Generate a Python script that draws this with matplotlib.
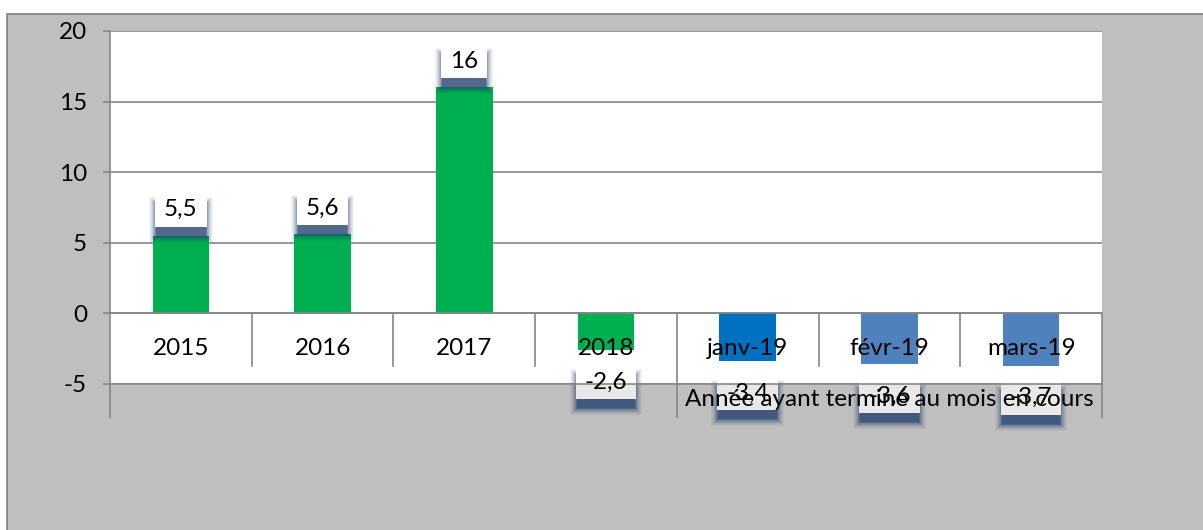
import matplotlib
matplotlib.use('Agg')
import matplotlib.pyplot as plt
from matplotlib.patches import Rectangle
from matplotlib.transforms import IdentityTransform

categories = ['2015', '2016', '2017', '2018', 'janv-19', 'févr-19', 'mars-19']
values = [5.5, 5.6, 16, -2.6, -3.4, -3.6, -3.7]
value_labels = ['5,5', '5,6', '16', '-2,6', '-3,4', '-3,6', '-3,7']
bar_colors = ['#00B050', '#00B050', '#00B050', '#00B050', '#0070C0', '#4F81BD', '#4F81BD']
group_label = 'Année ayant terminé au mois en cours'
yticks = [-5, 0, 5, 10, 15, 20]

plt.rcParams['font.family'] = ['Lato', 'DejaVu Sans']
FS = 17.5
GRID = '#868686'
LW = 1.2

W, H = 1203, 530
fig = plt.figure(figsize=(W / 100, H / 100), dpi=100)
fig.patch.set_facecolor('white')
bg = Rectangle((7 / W, -0.01), 1.0, 1 - 14 / H + 0.01, transform=fig.transFigure,
               fc='#BFBFBF', ec='#808080', lw=1.2, zorder=-5)
fig.add_artist(bg)

ax = fig.add_axes([110 / W, 1 - 384 / H, (1102 - 110) / W, (384 - 31) / H])
ax.set_zorder(5)
ax.set_facecolor('white')
ax.set_xlim(-0.5, len(categories) - 0.5)
ax.set_ylim(-5, 20)

x = list(range(len(categories)))
ax.bar(x, values, width=0.4, color=bar_colors, zorder=2)

ax.set_yticks(yticks)
ax.set_yticklabels([str(t) for t in yticks])
ax.yaxis.grid(True, color=GRID, lw=LW, zorder=1)
ax.set_axisbelow(True)
ax.set_xticks([])
for s in ['top', 'right', 'bottom']:
    ax.spines[s].set_visible(False)
ax.spines['left'].set_color(GRID)
ax.spines['left'].set_linewidth(LW)
ax.tick_params(axis='y', length=5, width=LW, color=GRID, pad=11.5, labelsize=FS)

# axis line at zero and -5 line over the labels
ax.axhline(0, color=GRID, lw=LW, zorder=3)
ax.axhline(-5, color=GRID, lw=LW, zorder=5, clip_on=False)

# category dividers
y_short = -3.7
y_long = -7.33
for i in range(len(categories) - 1):
    xd = i + 0.5
    yb = y_long if categories[i + 1] == 'janv-19' else y_short
    ax.plot([xd, xd], [0, yb], color=GRID, lw=LW, clip_on=False, zorder=3)
ax.plot([len(categories) - 0.5] * 2, [0, y_long], color=GRID, lw=LW, clip_on=False, zorder=3)
ax.plot([-0.5, -0.5], [-5, y_long], color=GRID, lw=LW, clip_on=False, zorder=3)

# category labels
for i, c in enumerate(categories):
    ax.text(i, -2.5, c, ha='center', va='center', fontsize=FS, color='black', zorder=6)

# group label
ax.text(5, -6.1, group_label, ha='center', va='center', fontsize=FS, color='black', zorder=7, clip_on=False)

# data labels with white box and blurred navy shadow
fig.canvas.draw()
renderer = fig.canvas.get_renderer()
ident = IdentityTransform()
y_m5 = ax.transData.transform((0, -5))[1]
BOX_H = 34
SHADOW = '#1F3A6E'
blur = [(6, 0.05), (5, 0.06), (4, 0.08), (3, 0.1), (2, 0.13), (1, 0.18), (0, 0.3), (-1, 0.35)]
for i, (v, l) in enumerate(zip(values, value_labels)):
    off = 26 if v > 0 else -32
    cx, cy = ax.transData.transform((i, v))
    cy += off
    t = ax.text(cx, cy, l, transform=ident, ha='center', va='center', fontsize=FS,
                color='black', zorder=6, clip_on=False)
    tw = t.get_window_extent(renderer).width
    bw = tw + 18
    x0, y0 = cx - bw / 2, cy - BOX_H / 2
    # blurred shadow shifted down
    for k, a in blur:
        ax.add_patch(Rectangle((x0 - k, y0 - 10 - k), bw + 2 * k, BOX_H + 2 * k,
                               transform=ident, fc=SHADOW, ec='none', alpha=a,
                               zorder=4, clip_on=False))
    ax.add_patch(Rectangle((x0, y0), bw, BOX_H, transform=ident, fc='white', ec='none',
                           zorder=4.2, clip_on=False))
    # part of the box below the plot area is tinted grey
    if y0 < y_m5:
        ax.add_patch(Rectangle((x0, y0), bw, min(y_m5, y0 + BOX_H) - y0, transform=ident,
                               fc='#BFBFBF', ec='none', alpha=0.35, zorder=4.3, clip_on=False))

fig.savefig('out.png', dpi=100)
